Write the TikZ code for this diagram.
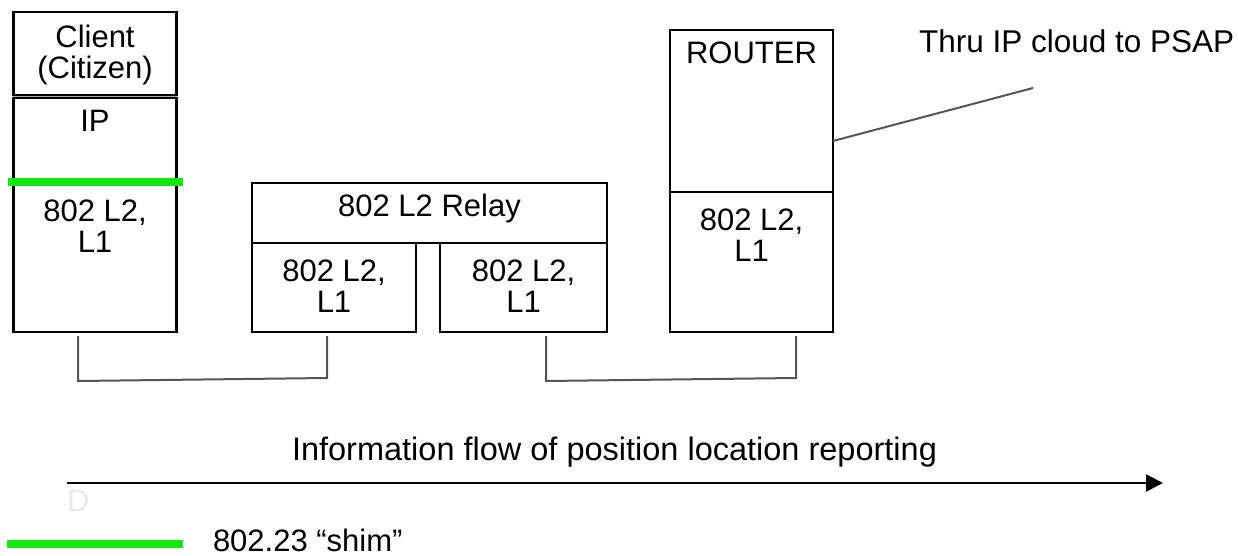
\documentclass[tikz,border=0pt]{standalone}
\usepackage{fontspec}
\setmainfont{Liberation Sans}
\usetikzlibrary{arrows.meta}
\definecolor{shim}{RGB}{17,230,17}
\definecolor{linkgray}{RGB}{85,85,85}
\begin{document}
\begin{tikzpicture}[x=1pt,y=-1pt,
  box/.style={draw=black, line width=2.4pt, rectangle, inner sep=0pt, outer sep=0pt},
  txt/.style={inner sep=0pt, outer sep=0pt, font=\fontsize{31}{31}\selectfont, align=center},
  bigtxt/.style={inner sep=0pt, outer sep=0pt, font=\fontsize{32.5}{33}\selectfont},
  link/.style={draw=linkgray, line width=2pt},
  shimline/.style={draw=shim, line width=7.5pt},
  flow/.style={draw=black, line width=2.5pt, -{Triangle[length=17pt,width=17pt]}}]
\useasboundingbox (0,0) rectangle (1238,556);
\clip (0,0) rectangle (1238,556);

% client stack
\fill[gray!70] (13,95) rectangle (177,98);
\node[box, minimum width=163pt, minimum height=83pt] (client) at (95,53.5) {};
\node[box, minimum width=163pt, minimum height=84pt] (ip) at (95,140) {};
\node[box, minimum width=163pt, minimum height=150pt] (l2a) at (95,257) {};
\node[txt] (clienttxt) at ([yshift=-1pt]client.center) {Client\\(Citizen)};
\node[txt, anchor=north] (iptxt) at ([yshift=-12pt]ip.north) {IP};
\node[txt, anchor=north] (l2atxt) at ([yshift=-17.5pt]l2a.north) {802 L2,\\L1};

% relay
\node[box, minimum width=355pt, minimum height=60pt] (relay) at (429.5,213) {};
\node[txt, anchor=base] (relaytxt) at ([yshift=-3pt]relay.center) {802 L2 Relay};
\node[box, minimum width=164pt, minimum height=89pt] (sub1) at (334,287.5) {};
\node[box, minimum width=167pt, minimum height=89pt] (sub2) at (523.5,287.5) {};
\node[txt, anchor=north] (sub1txt) at ([yshift=-17pt]sub1.north) {802 L2,\\L1};
\node[txt, anchor=north] (sub2txt) at ([yshift=-17pt]sub2.north) {802 L2,\\L1};

% router
\node[box, minimum width=163pt, minimum height=162pt] (router) at (751.5,111) {};
\node[box, minimum width=163pt, minimum height=140pt] (rl2) at (751.5,262) {};
\node[txt, anchor=north] (routertxt) at ([yshift=-12pt]router.north) {ROUTER};
\node[txt, anchor=north] (rl2txt) at ([yshift=-17pt]rl2.north) {802 L2,\\L1};

% shim line on client stack
\draw[shimline] ([xshift=-6pt]l2a.north west) -- ([xshift=6pt]l2a.north east);

% PSAP label and leader
\node[txt, font=\fontsize{31.5}{32}\selectfont, anchor=base west] (psap) at (919,53) {Thru IP cloud to PSAP};
\coordinate (leadend) at (1033,88);
\draw[linkgray, line width=2pt] ([yshift=-30pt]router.east) -- (leadend);

% link brackets
\coordinate (c1a) at (78,336);
\coordinate (c1b) at (78,381);
\coordinate (c1c) at (327,378);
\coordinate (c1d) at (327,336);
\draw[link] (c1a) -- (c1b) -- (c1c) -- (c1d);
\coordinate (c2a) at (546,336);
\coordinate (c2b) at (546,381);
\coordinate (c2c) at (796,378);
\coordinate (c2d) at (796,336);
\draw[link] (c2a) -- (c2b) -- (c2c) -- (c2d);

% information flow
\node[bigtxt, anchor=base west] (flowtxt) at (292,460) {Information flow of position location reporting};
\coordinate (fstart) at (67,483);
\coordinate (fend) at (1163,483);
\draw[flow] (fstart) -- (fend);
\node[txt, anchor=base west, text=gray!18] (dmark) at (67,511) {D};

% legend
\coordinate (lgA) at (7,544);
\coordinate (lgB) at (183,544);
\draw[shimline] (lgA) -- (lgB);
\node[txt, anchor=base west] (lgtxt) at (213,551) {802.23 “shim”};
\end{tikzpicture}
\end{document}
